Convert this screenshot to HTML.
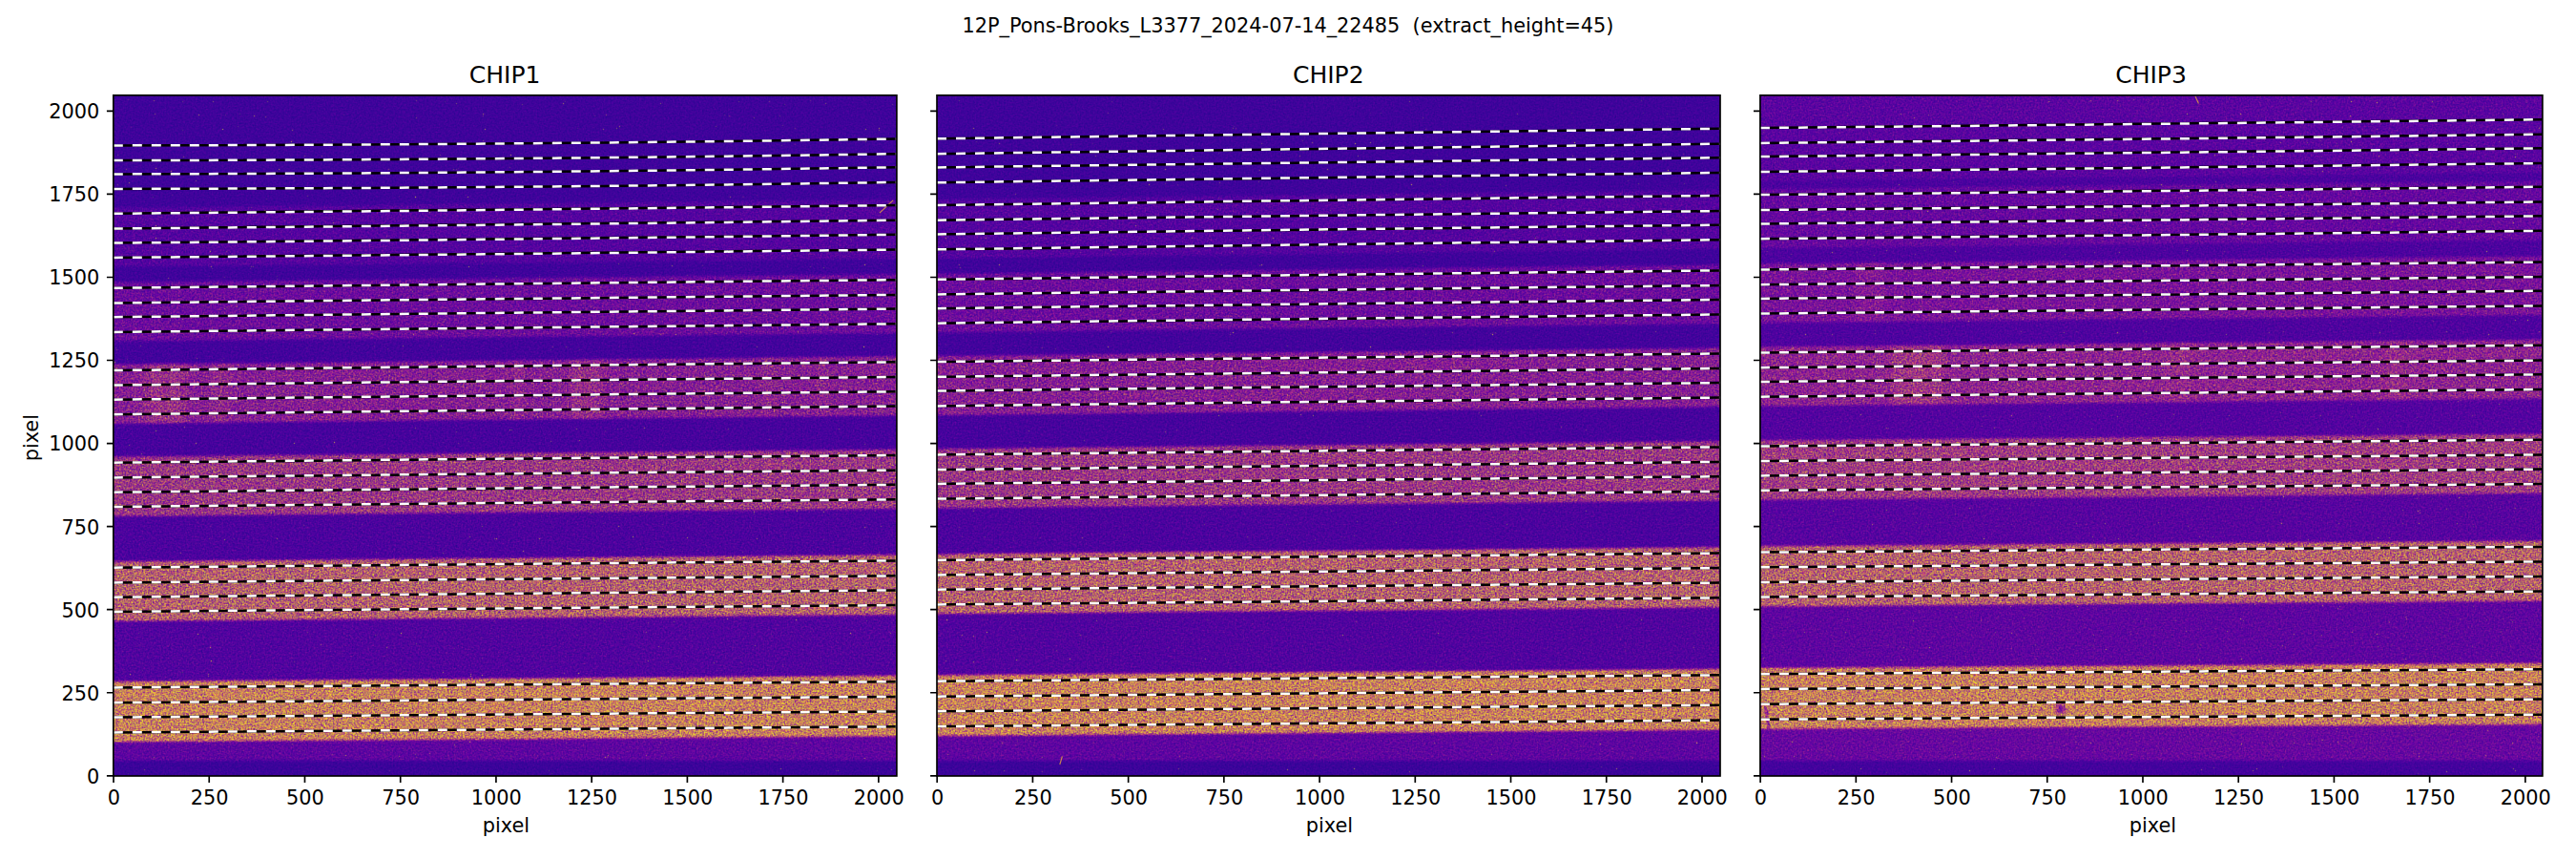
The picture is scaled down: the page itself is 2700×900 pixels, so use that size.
<!DOCTYPE html>
<html lang="en"><head><meta charset="utf-8"><title>12P_Pons-Brooks_L3377_2024-07-14_22485</title>
<style>html,body{margin:0;padding:0;background:#fff;overflow:hidden}svg{display:block}text{font-family:"DejaVu Sans","Liberation Sans",sans-serif;fill:#000}.t{font-size:20.83px}.ti{font-size:25px}.sp{fill:none;stroke:#000;stroke-width:1.67;stroke-linejoin:miter}.tk{stroke:#000;stroke-width:1.67;fill:none}.lb{stroke:#000;stroke-width:2.5;fill:none}.lw{stroke:#fff;stroke-width:2.5;fill:none;stroke-dasharray:10 10}</style></head><body>
<svg width="2700" height="900" viewBox="0 0 2700 900">
<defs>
<clipPath id="c0"><rect x="118.8" y="99.8" width="821.1" height="713.2"/></clipPath>
<filter id="p0" filterUnits="userSpaceOnUse" x="108.8" y="89.8" width="841.1" height="733.2" color-interpolation-filters="sRGB">
<feGaussianBlur in="SourceGraphic" stdDeviation="0 1.2" result="b"/>
<feColorMatrix in="b" type="matrix" values="1 0 0 0 0 1 0 0 0 0 1 0 0 0 0 0 0 0 0 1" result="m"/>
<feColorMatrix in="b" type="matrix" values="0 1 0 0 0 0 1 0 0 0 0 1 0 0 0 0 0 0 0 1" result="a"/>
<feColorMatrix in="m" type="matrix" values="0.3 0 0 0 0 0 0.3 0 0 0 0 0 0.3 0 0 0 0 0 0 1" result="fl"/>
<feTurbulence type="fractalNoise" baseFrequency="0.55" numOctaves="1" seed="3"/>
<feColorMatrix type="matrix" values="1 1 1 0 -1 1 1 1 0 -1 1 1 1 0 -1 0 0 0 0 1" result="n0"/>
<feComposite in="a" in2="n0" operator="arithmetic" k1="1" k2="-0.5" k3="0" k4="0.5" result="an0"/>
<feComposite in="m" in2="an0" operator="arithmetic" k1="0" k2="1" k3="4" k4="-2" result="u0"/>
<feBlend in="u0" in2="fl" mode="lighten" result="v0"/>
<feComponentTransfer in="v0" result="c0"><feFuncR type="table" tableValues="0.050 0.096 0.132 0.164 0.193 0.221 0.248 0.274 0.300 0.325 0.350 0.375 0.399 0.424 0.448 0.471 0.501 0.524 0.546 0.568 0.590 0.611 0.631 0.651 0.670 0.688 0.706 0.723 0.740 0.756 0.772 0.787 0.805 0.820 0.833 0.847 0.860 0.872 0.884 0.896 0.907 0.918 0.928 0.938 0.947 0.955 0.963 0.970 0.978 0.983 0.987 0.991 0.993 0.994 0.994 0.993 0.991 0.988 0.983 0.976 0.968 0.959 0.949 0.940"/><feFuncG type="table" tableValues="0.030 0.025 0.022 0.020 0.018 0.016 0.014 0.012 0.010 0.007 0.004 0.002 0.001 0.001 0.002 0.006 0.014 0.025 0.039 0.056 0.073 0.090 0.108 0.125 0.143 0.161 0.178 0.196 0.214 0.232 0.249 0.267 0.289 0.307 0.325 0.343 0.361 0.379 0.397 0.416 0.435 0.454 0.473 0.493 0.513 0.533 0.554 0.575 0.602 0.624 0.647 0.670 0.693 0.717 0.741 0.765 0.791 0.816 0.842 0.868 0.895 0.921 0.948 0.975"/><feFuncB type="table" tableValues="0.528 0.547 0.563 0.577 0.590 0.602 0.613 0.623 0.632 0.640 0.646 0.652 0.656 0.659 0.660 0.660 0.657 0.653 0.647 0.639 0.630 0.620 0.608 0.596 0.582 0.568 0.554 0.539 0.524 0.509 0.495 0.480 0.462 0.448 0.434 0.421 0.407 0.393 0.380 0.366 0.353 0.340 0.326 0.313 0.299 0.285 0.272 0.258 0.241 0.228 0.215 0.202 0.189 0.177 0.166 0.157 0.149 0.144 0.142 0.143 0.147 0.152 0.152 0.131"/></feComponentTransfer>
<feTurbulence type="fractalNoise" baseFrequency="0.71" numOctaves="1" seed="8"/>
<feColorMatrix type="matrix" values="1 1 1 0 -1 1 1 1 0 -1 1 1 1 0 -1 0 0 0 0 1" result="n1"/>
<feComposite in="a" in2="n1" operator="arithmetic" k1="1" k2="-0.5" k3="0" k4="0.5" result="an1"/>
<feComposite in="m" in2="an1" operator="arithmetic" k1="0" k2="1" k3="4" k4="-2" result="u1"/>
<feBlend in="u1" in2="fl" mode="lighten" result="v1"/>
<feComponentTransfer in="v1" result="c1"><feFuncR type="table" tableValues="0.050 0.096 0.132 0.164 0.193 0.221 0.248 0.274 0.300 0.325 0.350 0.375 0.399 0.424 0.448 0.471 0.501 0.524 0.546 0.568 0.590 0.611 0.631 0.651 0.670 0.688 0.706 0.723 0.740 0.756 0.772 0.787 0.805 0.820 0.833 0.847 0.860 0.872 0.884 0.896 0.907 0.918 0.928 0.938 0.947 0.955 0.963 0.970 0.978 0.983 0.987 0.991 0.993 0.994 0.994 0.993 0.991 0.988 0.983 0.976 0.968 0.959 0.949 0.940"/><feFuncG type="table" tableValues="0.030 0.025 0.022 0.020 0.018 0.016 0.014 0.012 0.010 0.007 0.004 0.002 0.001 0.001 0.002 0.006 0.014 0.025 0.039 0.056 0.073 0.090 0.108 0.125 0.143 0.161 0.178 0.196 0.214 0.232 0.249 0.267 0.289 0.307 0.325 0.343 0.361 0.379 0.397 0.416 0.435 0.454 0.473 0.493 0.513 0.533 0.554 0.575 0.602 0.624 0.647 0.670 0.693 0.717 0.741 0.765 0.791 0.816 0.842 0.868 0.895 0.921 0.948 0.975"/><feFuncB type="table" tableValues="0.528 0.547 0.563 0.577 0.590 0.602 0.613 0.623 0.632 0.640 0.646 0.652 0.656 0.659 0.660 0.660 0.657 0.653 0.647 0.639 0.630 0.620 0.608 0.596 0.582 0.568 0.554 0.539 0.524 0.509 0.495 0.480 0.462 0.448 0.434 0.421 0.407 0.393 0.380 0.366 0.353 0.340 0.326 0.313 0.299 0.285 0.272 0.258 0.241 0.228 0.215 0.202 0.189 0.177 0.166 0.157 0.149 0.144 0.142 0.143 0.147 0.152 0.152 0.131"/></feComponentTransfer>
<feTurbulence type="fractalNoise" baseFrequency="0.89" numOctaves="1" seed="13"/>
<feColorMatrix type="matrix" values="1 1 1 0 -1 1 1 1 0 -1 1 1 1 0 -1 0 0 0 0 1" result="n2"/>
<feComposite in="a" in2="n2" operator="arithmetic" k1="1" k2="-0.5" k3="0" k4="0.5" result="an2"/>
<feComposite in="m" in2="an2" operator="arithmetic" k1="0" k2="1" k3="4" k4="-2" result="u2"/>
<feBlend in="u2" in2="fl" mode="lighten" result="v2"/>
<feComponentTransfer in="v2" result="c2"><feFuncR type="table" tableValues="0.050 0.096 0.132 0.164 0.193 0.221 0.248 0.274 0.300 0.325 0.350 0.375 0.399 0.424 0.448 0.471 0.501 0.524 0.546 0.568 0.590 0.611 0.631 0.651 0.670 0.688 0.706 0.723 0.740 0.756 0.772 0.787 0.805 0.820 0.833 0.847 0.860 0.872 0.884 0.896 0.907 0.918 0.928 0.938 0.947 0.955 0.963 0.970 0.978 0.983 0.987 0.991 0.993 0.994 0.994 0.993 0.991 0.988 0.983 0.976 0.968 0.959 0.949 0.940"/><feFuncG type="table" tableValues="0.030 0.025 0.022 0.020 0.018 0.016 0.014 0.012 0.010 0.007 0.004 0.002 0.001 0.001 0.002 0.006 0.014 0.025 0.039 0.056 0.073 0.090 0.108 0.125 0.143 0.161 0.178 0.196 0.214 0.232 0.249 0.267 0.289 0.307 0.325 0.343 0.361 0.379 0.397 0.416 0.435 0.454 0.473 0.493 0.513 0.533 0.554 0.575 0.602 0.624 0.647 0.670 0.693 0.717 0.741 0.765 0.791 0.816 0.842 0.868 0.895 0.921 0.948 0.975"/><feFuncB type="table" tableValues="0.528 0.547 0.563 0.577 0.590 0.602 0.613 0.623 0.632 0.640 0.646 0.652 0.656 0.659 0.660 0.660 0.657 0.653 0.647 0.639 0.630 0.620 0.608 0.596 0.582 0.568 0.554 0.539 0.524 0.509 0.495 0.480 0.462 0.448 0.434 0.421 0.407 0.393 0.380 0.366 0.353 0.340 0.326 0.313 0.299 0.285 0.272 0.258 0.241 0.228 0.215 0.202 0.189 0.177 0.166 0.157 0.149 0.144 0.142 0.143 0.147 0.152 0.152 0.131"/></feComponentTransfer>
<feTurbulence type="fractalNoise" baseFrequency="0.63" numOctaves="1" seed="18"/>
<feColorMatrix type="matrix" values="1 1 1 0 -1 1 1 1 0 -1 1 1 1 0 -1 0 0 0 0 1" result="n3"/>
<feComposite in="a" in2="n3" operator="arithmetic" k1="1" k2="-0.5" k3="0" k4="0.5" result="an3"/>
<feComposite in="m" in2="an3" operator="arithmetic" k1="0" k2="1" k3="4" k4="-2" result="u3"/>
<feBlend in="u3" in2="fl" mode="lighten" result="v3"/>
<feComponentTransfer in="v3" result="c3"><feFuncR type="table" tableValues="0.050 0.096 0.132 0.164 0.193 0.221 0.248 0.274 0.300 0.325 0.350 0.375 0.399 0.424 0.448 0.471 0.501 0.524 0.546 0.568 0.590 0.611 0.631 0.651 0.670 0.688 0.706 0.723 0.740 0.756 0.772 0.787 0.805 0.820 0.833 0.847 0.860 0.872 0.884 0.896 0.907 0.918 0.928 0.938 0.947 0.955 0.963 0.970 0.978 0.983 0.987 0.991 0.993 0.994 0.994 0.993 0.991 0.988 0.983 0.976 0.968 0.959 0.949 0.940"/><feFuncG type="table" tableValues="0.030 0.025 0.022 0.020 0.018 0.016 0.014 0.012 0.010 0.007 0.004 0.002 0.001 0.001 0.002 0.006 0.014 0.025 0.039 0.056 0.073 0.090 0.108 0.125 0.143 0.161 0.178 0.196 0.214 0.232 0.249 0.267 0.289 0.307 0.325 0.343 0.361 0.379 0.397 0.416 0.435 0.454 0.473 0.493 0.513 0.533 0.554 0.575 0.602 0.624 0.647 0.670 0.693 0.717 0.741 0.765 0.791 0.816 0.842 0.868 0.895 0.921 0.948 0.975"/><feFuncB type="table" tableValues="0.528 0.547 0.563 0.577 0.590 0.602 0.613 0.623 0.632 0.640 0.646 0.652 0.656 0.659 0.660 0.660 0.657 0.653 0.647 0.639 0.630 0.620 0.608 0.596 0.582 0.568 0.554 0.539 0.524 0.509 0.495 0.480 0.462 0.448 0.434 0.421 0.407 0.393 0.380 0.366 0.353 0.340 0.326 0.313 0.299 0.285 0.272 0.258 0.241 0.228 0.215 0.202 0.189 0.177 0.166 0.157 0.149 0.144 0.142 0.143 0.147 0.152 0.152 0.131"/></feComponentTransfer>
<feComposite in="c0" in2="c1" operator="arithmetic" k1="0" k2="0.5" k3="0.5" k4="0" result="s1"/>
<feComposite in="s1" in2="c2" operator="arithmetic" k1="0" k2="0.67" k3="0.33" k4="0" result="s2"/>
<feComposite in="s2" in2="c3" operator="arithmetic" k1="0" k2="0.75" k3="0.25" k4="0" result="s"/>
<feTurbulence type="fractalNoise" baseFrequency="0.93" numOctaves="1" seed="41"/>
<feColorMatrix type="matrix" values="0 0 0 0 0.92 0 0 0 0 0.80 0 0 0 0 0.25 0 0 0 14 -10.81" result="hot"/>
<feMerge result="sh"><feMergeNode in="s"/><feMergeNode in="hot"/></feMerge>
<feConvolveMatrix in="sh" order="3" kernelMatrix="0 1 0 1 6 1 0 1 0" divisor="10" edgeMode="duplicate" preserveAlpha="true"/>
</filter>
<clipPath id="c1"><rect x="982" y="99.8" width="821" height="713.2"/></clipPath>
<filter id="p1" filterUnits="userSpaceOnUse" x="972" y="89.8" width="841" height="733.2" color-interpolation-filters="sRGB">
<feGaussianBlur in="SourceGraphic" stdDeviation="0 1.2" result="b"/>
<feColorMatrix in="b" type="matrix" values="1 0 0 0 0 1 0 0 0 0 1 0 0 0 0 0 0 0 0 1" result="m"/>
<feColorMatrix in="b" type="matrix" values="0 1 0 0 0 0 1 0 0 0 0 1 0 0 0 0 0 0 0 1" result="a"/>
<feColorMatrix in="m" type="matrix" values="0.3 0 0 0 0 0 0.3 0 0 0 0 0 0.3 0 0 0 0 0 0 1" result="fl"/>
<feTurbulence type="fractalNoise" baseFrequency="0.55" numOctaves="1" seed="20"/>
<feColorMatrix type="matrix" values="1 1 1 0 -1 1 1 1 0 -1 1 1 1 0 -1 0 0 0 0 1" result="n0"/>
<feComposite in="a" in2="n0" operator="arithmetic" k1="1" k2="-0.5" k3="0" k4="0.5" result="an0"/>
<feComposite in="m" in2="an0" operator="arithmetic" k1="0" k2="1" k3="4" k4="-2" result="u0"/>
<feBlend in="u0" in2="fl" mode="lighten" result="v0"/>
<feComponentTransfer in="v0" result="c0"><feFuncR type="table" tableValues="0.050 0.096 0.132 0.164 0.193 0.221 0.248 0.274 0.300 0.325 0.350 0.375 0.399 0.424 0.448 0.471 0.501 0.524 0.546 0.568 0.590 0.611 0.631 0.651 0.670 0.688 0.706 0.723 0.740 0.756 0.772 0.787 0.805 0.820 0.833 0.847 0.860 0.872 0.884 0.896 0.907 0.918 0.928 0.938 0.947 0.955 0.963 0.970 0.978 0.983 0.987 0.991 0.993 0.994 0.994 0.993 0.991 0.988 0.983 0.976 0.968 0.959 0.949 0.940"/><feFuncG type="table" tableValues="0.030 0.025 0.022 0.020 0.018 0.016 0.014 0.012 0.010 0.007 0.004 0.002 0.001 0.001 0.002 0.006 0.014 0.025 0.039 0.056 0.073 0.090 0.108 0.125 0.143 0.161 0.178 0.196 0.214 0.232 0.249 0.267 0.289 0.307 0.325 0.343 0.361 0.379 0.397 0.416 0.435 0.454 0.473 0.493 0.513 0.533 0.554 0.575 0.602 0.624 0.647 0.670 0.693 0.717 0.741 0.765 0.791 0.816 0.842 0.868 0.895 0.921 0.948 0.975"/><feFuncB type="table" tableValues="0.528 0.547 0.563 0.577 0.590 0.602 0.613 0.623 0.632 0.640 0.646 0.652 0.656 0.659 0.660 0.660 0.657 0.653 0.647 0.639 0.630 0.620 0.608 0.596 0.582 0.568 0.554 0.539 0.524 0.509 0.495 0.480 0.462 0.448 0.434 0.421 0.407 0.393 0.380 0.366 0.353 0.340 0.326 0.313 0.299 0.285 0.272 0.258 0.241 0.228 0.215 0.202 0.189 0.177 0.166 0.157 0.149 0.144 0.142 0.143 0.147 0.152 0.152 0.131"/></feComponentTransfer>
<feTurbulence type="fractalNoise" baseFrequency="0.71" numOctaves="1" seed="25"/>
<feColorMatrix type="matrix" values="1 1 1 0 -1 1 1 1 0 -1 1 1 1 0 -1 0 0 0 0 1" result="n1"/>
<feComposite in="a" in2="n1" operator="arithmetic" k1="1" k2="-0.5" k3="0" k4="0.5" result="an1"/>
<feComposite in="m" in2="an1" operator="arithmetic" k1="0" k2="1" k3="4" k4="-2" result="u1"/>
<feBlend in="u1" in2="fl" mode="lighten" result="v1"/>
<feComponentTransfer in="v1" result="c1"><feFuncR type="table" tableValues="0.050 0.096 0.132 0.164 0.193 0.221 0.248 0.274 0.300 0.325 0.350 0.375 0.399 0.424 0.448 0.471 0.501 0.524 0.546 0.568 0.590 0.611 0.631 0.651 0.670 0.688 0.706 0.723 0.740 0.756 0.772 0.787 0.805 0.820 0.833 0.847 0.860 0.872 0.884 0.896 0.907 0.918 0.928 0.938 0.947 0.955 0.963 0.970 0.978 0.983 0.987 0.991 0.993 0.994 0.994 0.993 0.991 0.988 0.983 0.976 0.968 0.959 0.949 0.940"/><feFuncG type="table" tableValues="0.030 0.025 0.022 0.020 0.018 0.016 0.014 0.012 0.010 0.007 0.004 0.002 0.001 0.001 0.002 0.006 0.014 0.025 0.039 0.056 0.073 0.090 0.108 0.125 0.143 0.161 0.178 0.196 0.214 0.232 0.249 0.267 0.289 0.307 0.325 0.343 0.361 0.379 0.397 0.416 0.435 0.454 0.473 0.493 0.513 0.533 0.554 0.575 0.602 0.624 0.647 0.670 0.693 0.717 0.741 0.765 0.791 0.816 0.842 0.868 0.895 0.921 0.948 0.975"/><feFuncB type="table" tableValues="0.528 0.547 0.563 0.577 0.590 0.602 0.613 0.623 0.632 0.640 0.646 0.652 0.656 0.659 0.660 0.660 0.657 0.653 0.647 0.639 0.630 0.620 0.608 0.596 0.582 0.568 0.554 0.539 0.524 0.509 0.495 0.480 0.462 0.448 0.434 0.421 0.407 0.393 0.380 0.366 0.353 0.340 0.326 0.313 0.299 0.285 0.272 0.258 0.241 0.228 0.215 0.202 0.189 0.177 0.166 0.157 0.149 0.144 0.142 0.143 0.147 0.152 0.152 0.131"/></feComponentTransfer>
<feTurbulence type="fractalNoise" baseFrequency="0.89" numOctaves="1" seed="30"/>
<feColorMatrix type="matrix" values="1 1 1 0 -1 1 1 1 0 -1 1 1 1 0 -1 0 0 0 0 1" result="n2"/>
<feComposite in="a" in2="n2" operator="arithmetic" k1="1" k2="-0.5" k3="0" k4="0.5" result="an2"/>
<feComposite in="m" in2="an2" operator="arithmetic" k1="0" k2="1" k3="4" k4="-2" result="u2"/>
<feBlend in="u2" in2="fl" mode="lighten" result="v2"/>
<feComponentTransfer in="v2" result="c2"><feFuncR type="table" tableValues="0.050 0.096 0.132 0.164 0.193 0.221 0.248 0.274 0.300 0.325 0.350 0.375 0.399 0.424 0.448 0.471 0.501 0.524 0.546 0.568 0.590 0.611 0.631 0.651 0.670 0.688 0.706 0.723 0.740 0.756 0.772 0.787 0.805 0.820 0.833 0.847 0.860 0.872 0.884 0.896 0.907 0.918 0.928 0.938 0.947 0.955 0.963 0.970 0.978 0.983 0.987 0.991 0.993 0.994 0.994 0.993 0.991 0.988 0.983 0.976 0.968 0.959 0.949 0.940"/><feFuncG type="table" tableValues="0.030 0.025 0.022 0.020 0.018 0.016 0.014 0.012 0.010 0.007 0.004 0.002 0.001 0.001 0.002 0.006 0.014 0.025 0.039 0.056 0.073 0.090 0.108 0.125 0.143 0.161 0.178 0.196 0.214 0.232 0.249 0.267 0.289 0.307 0.325 0.343 0.361 0.379 0.397 0.416 0.435 0.454 0.473 0.493 0.513 0.533 0.554 0.575 0.602 0.624 0.647 0.670 0.693 0.717 0.741 0.765 0.791 0.816 0.842 0.868 0.895 0.921 0.948 0.975"/><feFuncB type="table" tableValues="0.528 0.547 0.563 0.577 0.590 0.602 0.613 0.623 0.632 0.640 0.646 0.652 0.656 0.659 0.660 0.660 0.657 0.653 0.647 0.639 0.630 0.620 0.608 0.596 0.582 0.568 0.554 0.539 0.524 0.509 0.495 0.480 0.462 0.448 0.434 0.421 0.407 0.393 0.380 0.366 0.353 0.340 0.326 0.313 0.299 0.285 0.272 0.258 0.241 0.228 0.215 0.202 0.189 0.177 0.166 0.157 0.149 0.144 0.142 0.143 0.147 0.152 0.152 0.131"/></feComponentTransfer>
<feTurbulence type="fractalNoise" baseFrequency="0.63" numOctaves="1" seed="35"/>
<feColorMatrix type="matrix" values="1 1 1 0 -1 1 1 1 0 -1 1 1 1 0 -1 0 0 0 0 1" result="n3"/>
<feComposite in="a" in2="n3" operator="arithmetic" k1="1" k2="-0.5" k3="0" k4="0.5" result="an3"/>
<feComposite in="m" in2="an3" operator="arithmetic" k1="0" k2="1" k3="4" k4="-2" result="u3"/>
<feBlend in="u3" in2="fl" mode="lighten" result="v3"/>
<feComponentTransfer in="v3" result="c3"><feFuncR type="table" tableValues="0.050 0.096 0.132 0.164 0.193 0.221 0.248 0.274 0.300 0.325 0.350 0.375 0.399 0.424 0.448 0.471 0.501 0.524 0.546 0.568 0.590 0.611 0.631 0.651 0.670 0.688 0.706 0.723 0.740 0.756 0.772 0.787 0.805 0.820 0.833 0.847 0.860 0.872 0.884 0.896 0.907 0.918 0.928 0.938 0.947 0.955 0.963 0.970 0.978 0.983 0.987 0.991 0.993 0.994 0.994 0.993 0.991 0.988 0.983 0.976 0.968 0.959 0.949 0.940"/><feFuncG type="table" tableValues="0.030 0.025 0.022 0.020 0.018 0.016 0.014 0.012 0.010 0.007 0.004 0.002 0.001 0.001 0.002 0.006 0.014 0.025 0.039 0.056 0.073 0.090 0.108 0.125 0.143 0.161 0.178 0.196 0.214 0.232 0.249 0.267 0.289 0.307 0.325 0.343 0.361 0.379 0.397 0.416 0.435 0.454 0.473 0.493 0.513 0.533 0.554 0.575 0.602 0.624 0.647 0.670 0.693 0.717 0.741 0.765 0.791 0.816 0.842 0.868 0.895 0.921 0.948 0.975"/><feFuncB type="table" tableValues="0.528 0.547 0.563 0.577 0.590 0.602 0.613 0.623 0.632 0.640 0.646 0.652 0.656 0.659 0.660 0.660 0.657 0.653 0.647 0.639 0.630 0.620 0.608 0.596 0.582 0.568 0.554 0.539 0.524 0.509 0.495 0.480 0.462 0.448 0.434 0.421 0.407 0.393 0.380 0.366 0.353 0.340 0.326 0.313 0.299 0.285 0.272 0.258 0.241 0.228 0.215 0.202 0.189 0.177 0.166 0.157 0.149 0.144 0.142 0.143 0.147 0.152 0.152 0.131"/></feComponentTransfer>
<feComposite in="c0" in2="c1" operator="arithmetic" k1="0" k2="0.5" k3="0.5" k4="0" result="s1"/>
<feComposite in="s1" in2="c2" operator="arithmetic" k1="0" k2="0.67" k3="0.33" k4="0" result="s2"/>
<feComposite in="s2" in2="c3" operator="arithmetic" k1="0" k2="0.75" k3="0.25" k4="0" result="s"/>
<feTurbulence type="fractalNoise" baseFrequency="0.93" numOctaves="1" seed="42"/>
<feColorMatrix type="matrix" values="0 0 0 0 0.92 0 0 0 0 0.80 0 0 0 0 0.25 0 0 0 14 -10.81" result="hot"/>
<feMerge result="sh"><feMergeNode in="s"/><feMergeNode in="hot"/></feMerge>
<feConvolveMatrix in="sh" order="3" kernelMatrix="0 1 0 1 6 1 0 1 0" divisor="10" edgeMode="duplicate" preserveAlpha="true"/>
</filter>
<clipPath id="c2"><rect x="1844.9" y="99.8" width="820" height="713.2"/></clipPath>
<filter id="p2" filterUnits="userSpaceOnUse" x="1834.9" y="89.8" width="841" height="733.2" color-interpolation-filters="sRGB">
<feGaussianBlur in="SourceGraphic" stdDeviation="0 1.2" result="b"/>
<feColorMatrix in="b" type="matrix" values="1 0 0 0 0 1 0 0 0 0 1 0 0 0 0 0 0 0 0 1" result="m"/>
<feColorMatrix in="b" type="matrix" values="0 1 0 0 0 0 1 0 0 0 0 1 0 0 0 0 0 0 0 1" result="a"/>
<feColorMatrix in="m" type="matrix" values="0.3 0 0 0 0 0 0.3 0 0 0 0 0 0.3 0 0 0 0 0 0 1" result="fl"/>
<feTurbulence type="fractalNoise" baseFrequency="0.55" numOctaves="1" seed="37"/>
<feColorMatrix type="matrix" values="1 1 1 0 -1 1 1 1 0 -1 1 1 1 0 -1 0 0 0 0 1" result="n0"/>
<feComposite in="a" in2="n0" operator="arithmetic" k1="1" k2="-0.5" k3="0" k4="0.5" result="an0"/>
<feComposite in="m" in2="an0" operator="arithmetic" k1="0" k2="1" k3="4" k4="-2" result="u0"/>
<feBlend in="u0" in2="fl" mode="lighten" result="v0"/>
<feComponentTransfer in="v0" result="c0"><feFuncR type="table" tableValues="0.050 0.096 0.132 0.164 0.193 0.221 0.248 0.274 0.300 0.325 0.350 0.375 0.399 0.424 0.448 0.471 0.501 0.524 0.546 0.568 0.590 0.611 0.631 0.651 0.670 0.688 0.706 0.723 0.740 0.756 0.772 0.787 0.805 0.820 0.833 0.847 0.860 0.872 0.884 0.896 0.907 0.918 0.928 0.938 0.947 0.955 0.963 0.970 0.978 0.983 0.987 0.991 0.993 0.994 0.994 0.993 0.991 0.988 0.983 0.976 0.968 0.959 0.949 0.940"/><feFuncG type="table" tableValues="0.030 0.025 0.022 0.020 0.018 0.016 0.014 0.012 0.010 0.007 0.004 0.002 0.001 0.001 0.002 0.006 0.014 0.025 0.039 0.056 0.073 0.090 0.108 0.125 0.143 0.161 0.178 0.196 0.214 0.232 0.249 0.267 0.289 0.307 0.325 0.343 0.361 0.379 0.397 0.416 0.435 0.454 0.473 0.493 0.513 0.533 0.554 0.575 0.602 0.624 0.647 0.670 0.693 0.717 0.741 0.765 0.791 0.816 0.842 0.868 0.895 0.921 0.948 0.975"/><feFuncB type="table" tableValues="0.528 0.547 0.563 0.577 0.590 0.602 0.613 0.623 0.632 0.640 0.646 0.652 0.656 0.659 0.660 0.660 0.657 0.653 0.647 0.639 0.630 0.620 0.608 0.596 0.582 0.568 0.554 0.539 0.524 0.509 0.495 0.480 0.462 0.448 0.434 0.421 0.407 0.393 0.380 0.366 0.353 0.340 0.326 0.313 0.299 0.285 0.272 0.258 0.241 0.228 0.215 0.202 0.189 0.177 0.166 0.157 0.149 0.144 0.142 0.143 0.147 0.152 0.152 0.131"/></feComponentTransfer>
<feTurbulence type="fractalNoise" baseFrequency="0.71" numOctaves="1" seed="42"/>
<feColorMatrix type="matrix" values="1 1 1 0 -1 1 1 1 0 -1 1 1 1 0 -1 0 0 0 0 1" result="n1"/>
<feComposite in="a" in2="n1" operator="arithmetic" k1="1" k2="-0.5" k3="0" k4="0.5" result="an1"/>
<feComposite in="m" in2="an1" operator="arithmetic" k1="0" k2="1" k3="4" k4="-2" result="u1"/>
<feBlend in="u1" in2="fl" mode="lighten" result="v1"/>
<feComponentTransfer in="v1" result="c1"><feFuncR type="table" tableValues="0.050 0.096 0.132 0.164 0.193 0.221 0.248 0.274 0.300 0.325 0.350 0.375 0.399 0.424 0.448 0.471 0.501 0.524 0.546 0.568 0.590 0.611 0.631 0.651 0.670 0.688 0.706 0.723 0.740 0.756 0.772 0.787 0.805 0.820 0.833 0.847 0.860 0.872 0.884 0.896 0.907 0.918 0.928 0.938 0.947 0.955 0.963 0.970 0.978 0.983 0.987 0.991 0.993 0.994 0.994 0.993 0.991 0.988 0.983 0.976 0.968 0.959 0.949 0.940"/><feFuncG type="table" tableValues="0.030 0.025 0.022 0.020 0.018 0.016 0.014 0.012 0.010 0.007 0.004 0.002 0.001 0.001 0.002 0.006 0.014 0.025 0.039 0.056 0.073 0.090 0.108 0.125 0.143 0.161 0.178 0.196 0.214 0.232 0.249 0.267 0.289 0.307 0.325 0.343 0.361 0.379 0.397 0.416 0.435 0.454 0.473 0.493 0.513 0.533 0.554 0.575 0.602 0.624 0.647 0.670 0.693 0.717 0.741 0.765 0.791 0.816 0.842 0.868 0.895 0.921 0.948 0.975"/><feFuncB type="table" tableValues="0.528 0.547 0.563 0.577 0.590 0.602 0.613 0.623 0.632 0.640 0.646 0.652 0.656 0.659 0.660 0.660 0.657 0.653 0.647 0.639 0.630 0.620 0.608 0.596 0.582 0.568 0.554 0.539 0.524 0.509 0.495 0.480 0.462 0.448 0.434 0.421 0.407 0.393 0.380 0.366 0.353 0.340 0.326 0.313 0.299 0.285 0.272 0.258 0.241 0.228 0.215 0.202 0.189 0.177 0.166 0.157 0.149 0.144 0.142 0.143 0.147 0.152 0.152 0.131"/></feComponentTransfer>
<feTurbulence type="fractalNoise" baseFrequency="0.89" numOctaves="1" seed="47"/>
<feColorMatrix type="matrix" values="1 1 1 0 -1 1 1 1 0 -1 1 1 1 0 -1 0 0 0 0 1" result="n2"/>
<feComposite in="a" in2="n2" operator="arithmetic" k1="1" k2="-0.5" k3="0" k4="0.5" result="an2"/>
<feComposite in="m" in2="an2" operator="arithmetic" k1="0" k2="1" k3="4" k4="-2" result="u2"/>
<feBlend in="u2" in2="fl" mode="lighten" result="v2"/>
<feComponentTransfer in="v2" result="c2"><feFuncR type="table" tableValues="0.050 0.096 0.132 0.164 0.193 0.221 0.248 0.274 0.300 0.325 0.350 0.375 0.399 0.424 0.448 0.471 0.501 0.524 0.546 0.568 0.590 0.611 0.631 0.651 0.670 0.688 0.706 0.723 0.740 0.756 0.772 0.787 0.805 0.820 0.833 0.847 0.860 0.872 0.884 0.896 0.907 0.918 0.928 0.938 0.947 0.955 0.963 0.970 0.978 0.983 0.987 0.991 0.993 0.994 0.994 0.993 0.991 0.988 0.983 0.976 0.968 0.959 0.949 0.940"/><feFuncG type="table" tableValues="0.030 0.025 0.022 0.020 0.018 0.016 0.014 0.012 0.010 0.007 0.004 0.002 0.001 0.001 0.002 0.006 0.014 0.025 0.039 0.056 0.073 0.090 0.108 0.125 0.143 0.161 0.178 0.196 0.214 0.232 0.249 0.267 0.289 0.307 0.325 0.343 0.361 0.379 0.397 0.416 0.435 0.454 0.473 0.493 0.513 0.533 0.554 0.575 0.602 0.624 0.647 0.670 0.693 0.717 0.741 0.765 0.791 0.816 0.842 0.868 0.895 0.921 0.948 0.975"/><feFuncB type="table" tableValues="0.528 0.547 0.563 0.577 0.590 0.602 0.613 0.623 0.632 0.640 0.646 0.652 0.656 0.659 0.660 0.660 0.657 0.653 0.647 0.639 0.630 0.620 0.608 0.596 0.582 0.568 0.554 0.539 0.524 0.509 0.495 0.480 0.462 0.448 0.434 0.421 0.407 0.393 0.380 0.366 0.353 0.340 0.326 0.313 0.299 0.285 0.272 0.258 0.241 0.228 0.215 0.202 0.189 0.177 0.166 0.157 0.149 0.144 0.142 0.143 0.147 0.152 0.152 0.131"/></feComponentTransfer>
<feTurbulence type="fractalNoise" baseFrequency="0.63" numOctaves="1" seed="52"/>
<feColorMatrix type="matrix" values="1 1 1 0 -1 1 1 1 0 -1 1 1 1 0 -1 0 0 0 0 1" result="n3"/>
<feComposite in="a" in2="n3" operator="arithmetic" k1="1" k2="-0.5" k3="0" k4="0.5" result="an3"/>
<feComposite in="m" in2="an3" operator="arithmetic" k1="0" k2="1" k3="4" k4="-2" result="u3"/>
<feBlend in="u3" in2="fl" mode="lighten" result="v3"/>
<feComponentTransfer in="v3" result="c3"><feFuncR type="table" tableValues="0.050 0.096 0.132 0.164 0.193 0.221 0.248 0.274 0.300 0.325 0.350 0.375 0.399 0.424 0.448 0.471 0.501 0.524 0.546 0.568 0.590 0.611 0.631 0.651 0.670 0.688 0.706 0.723 0.740 0.756 0.772 0.787 0.805 0.820 0.833 0.847 0.860 0.872 0.884 0.896 0.907 0.918 0.928 0.938 0.947 0.955 0.963 0.970 0.978 0.983 0.987 0.991 0.993 0.994 0.994 0.993 0.991 0.988 0.983 0.976 0.968 0.959 0.949 0.940"/><feFuncG type="table" tableValues="0.030 0.025 0.022 0.020 0.018 0.016 0.014 0.012 0.010 0.007 0.004 0.002 0.001 0.001 0.002 0.006 0.014 0.025 0.039 0.056 0.073 0.090 0.108 0.125 0.143 0.161 0.178 0.196 0.214 0.232 0.249 0.267 0.289 0.307 0.325 0.343 0.361 0.379 0.397 0.416 0.435 0.454 0.473 0.493 0.513 0.533 0.554 0.575 0.602 0.624 0.647 0.670 0.693 0.717 0.741 0.765 0.791 0.816 0.842 0.868 0.895 0.921 0.948 0.975"/><feFuncB type="table" tableValues="0.528 0.547 0.563 0.577 0.590 0.602 0.613 0.623 0.632 0.640 0.646 0.652 0.656 0.659 0.660 0.660 0.657 0.653 0.647 0.639 0.630 0.620 0.608 0.596 0.582 0.568 0.554 0.539 0.524 0.509 0.495 0.480 0.462 0.448 0.434 0.421 0.407 0.393 0.380 0.366 0.353 0.340 0.326 0.313 0.299 0.285 0.272 0.258 0.241 0.228 0.215 0.202 0.189 0.177 0.166 0.157 0.149 0.144 0.142 0.143 0.147 0.152 0.152 0.131"/></feComponentTransfer>
<feComposite in="c0" in2="c1" operator="arithmetic" k1="0" k2="0.5" k3="0.5" k4="0" result="s1"/>
<feComposite in="s1" in2="c2" operator="arithmetic" k1="0" k2="0.67" k3="0.33" k4="0" result="s2"/>
<feComposite in="s2" in2="c3" operator="arithmetic" k1="0" k2="0.75" k3="0.25" k4="0" result="s"/>
<feTurbulence type="fractalNoise" baseFrequency="0.93" numOctaves="1" seed="43"/>
<feColorMatrix type="matrix" values="0 0 0 0 0.92 0 0 0 0 0.80 0 0 0 0 0.25 0 0 0 14 -10.81" result="hot"/>
<feMerge result="sh"><feMergeNode in="s"/><feMergeNode in="hot"/></feMerge>
<feConvolveMatrix in="sh" order="3" kernelMatrix="0 1 0 1 6 1 0 1 0" divisor="10" edgeMode="duplicate" preserveAlpha="true"/>
</filter>
<filter id="hb" x="-20%" y="-5%" width="140%" height="110%" color-interpolation-filters="sRGB"><feGaussianBlur stdDeviation="5 0"/></filter>
</defs>
<rect width="2700" height="900" fill="#fff"/>
<g clip-path="url(#c0)">
<rect x="118.8" y="99.8" width="821.1" height="713.2" fill="#42039c"/>
<rect x="118.8" y="797" width="821.1" height="16" fill="#3a049a"/>
<polygon points="118.8,217.8 939.9,209 939.9,271.2 118.8,279.6" fill="#53049f"/>
<polygon points="118.8,295.8 939.9,287.2 939.9,349 118.8,357.6" fill="#6b0d9c"/>
<polygon points="118.8,382.1 939.9,373.3 939.9,435.3 118.8,443.9" fill="#841f91"/>
<polygon points="118.8,478.7 939.9,471 939.9,533 118.8,540.7" fill="#993882"/>
<polygon points="118.8,588.7 939.9,581.4 939.9,643.8 118.8,650.6" fill="#b2606d"/>
<polygon points="118.8,714.4 939.9,708.2 939.9,771 118.8,777.1" fill="#c57f5e"/>
<g filter="url(#p0)">
<rect x="106.8" y="87.8" width="845.1" height="737.2" fill="#181100"/>
<polygon points="106.8,239.63 951.9,230.57 951.9,308.77 106.8,317.63" fill="#181300"/>
<polygon points="106.8,317.63 951.9,308.77 951.9,394.87 106.8,403.73" fill="#1a1700"/>
<polygon points="106.8,403.73 951.9,394.87 951.9,492.59 106.8,500.51" fill="#1c1a00"/>
<polygon points="106.8,500.51 951.9,492.59 951.9,603.2 106.8,610.5" fill="#1f1e00"/>
<polygon points="106.8,610.5 951.9,603.2 951.9,729.81 106.8,736.29" fill="#222100"/>
<polygon points="106.8,777.19 951.9,770.91 951.9,797 106.8,797" fill="#2a2600"/>
<rect x="106.8" y="797" width="845.1" height="28" fill="#161000"/>
<polygon points="106.8,87.8 951.9,87.8 951.9,139.4 106.8,146.5" fill="#181100"/>
<polygon points="106.8,146.5 951.9,139.4 951.9,200.5 106.8,207.7" fill="#181100"/>
<polygon points="106.8,217.93 951.9,208.87 951.9,271.08 106.8,279.72" fill="#242300"/>
<polygon points="106.8,295.93 951.9,287.07 951.9,348.87 106.8,357.73" fill="#323800"/>
<polygon points="106.8,382.23 951.9,373.17 951.9,435.17 106.8,444.03" fill="#445400"/>
<polygon points="106.8,478.81 951.9,470.89 951.9,532.89 106.8,540.81" fill="#577a00"/>
<polygon points="106.8,588.81 951.9,581.29 951.9,643.7 106.8,650.7" fill="#80b500"/>
<polygon points="106.8,714.49 951.9,708.11 951.9,770.91 106.8,777.19" fill="#add800"/>
<g filter="url(#hb)">
<polygon points="152,381.74 195,381.28 193,443.1 150,443.55" fill="#556a00"/>
<polygon points="224,380.97 240,380.8 238,442.63 222,442.8" fill="#506300"/>
<polygon points="538,377.61 548,377.5 546,439.4 536,439.51" fill="#4e6100"/>
<polygon points="598,376.96 632,376.6 630,438.52 596,438.88" fill="#526500"/>
<polygon points="800,374.8 815,374.64 813,436.61 798,436.77" fill="#4c5f00"/>
<polygon points="856,374.2 867,374.08 865,436.06 854,436.18" fill="#4c5f00"/>
</g>
</g>
<path d="M921.9,223.2L936.1,209.8" stroke="#e0a040" stroke-width="1.1" fill="none" opacity="0.85"/>
<path class="lb" d="M118.8,152.4Q529.35,151.85 939.9,145.5M118.8,168.1Q529.35,167.55 939.9,161.2M118.8,182.4Q529.35,181.7 939.9,175.2M118.8,197.9Q529.35,197.3 939.9,190.9M118.8,223.8Q529.35,220.3 939.9,215M118.8,239.5Q529.35,236 939.9,230.7M118.8,254.6Q529.35,251.1 939.9,245.8M118.8,269.9Q529.35,266.6 939.9,261.5M118.8,301.8Q529.35,297.3 939.9,293.2M118.8,317.5Q529.35,313 939.9,308.9M118.8,332.2Q529.35,327.7 939.9,323.6M118.8,347.9Q529.35,343.4 939.9,339.3M118.8,388.1Q529.35,383.3 939.9,379.3M118.8,403.6Q529.35,398.9 939.9,395M118.8,418.7Q529.35,414.1 939.9,410.3M118.8,434.2Q529.35,429.5 939.9,425.6M118.8,484.7Q529.35,480.35 939.9,477M118.8,500.4Q529.35,496.05 939.9,492.7M118.8,515.7Q529.35,511.25 939.9,507.8M118.8,531Q529.35,526.65 939.9,523.3M118.8,594.7Q529.35,590.85 939.9,587.4M118.8,610.4Q529.35,606.65 939.9,603.3M118.8,625.7Q529.35,621.85 939.9,618.4M118.8,640.9Q529.35,637.3 939.9,634.1M118.8,720.4Q529.35,717.3 939.9,714.2M118.8,736.2Q529.35,733.05 939.9,729.9M118.8,751.6Q529.35,748.5 939.9,745.4M118.8,767.4Q529.35,764.35 939.9,761.3"/>
<path class="lw" d="M118.8,152.4Q529.35,151.85 939.9,145.5M118.8,168.1Q529.35,167.55 939.9,161.2M118.8,182.4Q529.35,181.7 939.9,175.2M118.8,197.9Q529.35,197.3 939.9,190.9M118.8,223.8Q529.35,220.3 939.9,215M118.8,239.5Q529.35,236 939.9,230.7M118.8,254.6Q529.35,251.1 939.9,245.8M118.8,269.9Q529.35,266.6 939.9,261.5M118.8,301.8Q529.35,297.3 939.9,293.2M118.8,317.5Q529.35,313 939.9,308.9M118.8,332.2Q529.35,327.7 939.9,323.6M118.8,347.9Q529.35,343.4 939.9,339.3M118.8,388.1Q529.35,383.3 939.9,379.3M118.8,403.6Q529.35,398.9 939.9,395M118.8,418.7Q529.35,414.1 939.9,410.3M118.8,434.2Q529.35,429.5 939.9,425.6M118.8,484.7Q529.35,480.35 939.9,477M118.8,500.4Q529.35,496.05 939.9,492.7M118.8,515.7Q529.35,511.25 939.9,507.8M118.8,531Q529.35,526.65 939.9,523.3M118.8,594.7Q529.35,590.85 939.9,587.4M118.8,610.4Q529.35,606.65 939.9,603.3M118.8,625.7Q529.35,621.85 939.9,618.4M118.8,640.9Q529.35,637.3 939.9,634.1M118.8,720.4Q529.35,717.3 939.9,714.2M118.8,736.2Q529.35,733.05 939.9,729.9M118.8,751.6Q529.35,748.5 939.9,745.4M118.8,767.4Q529.35,764.35 939.9,761.3"/>
</g>
<rect class="sp" x="118.8" y="99.8" width="821.1" height="713.2"/>
<text class="t" x="119.4" y="842.5" text-anchor="middle">0</text>
<text class="t" x="104.2" y="820.73" text-anchor="end">0</text>
<text class="t" x="219.63" y="842.5" text-anchor="middle">250</text>
<text class="t" x="104.2" y="733.67" text-anchor="end">250</text>
<text class="t" x="319.86" y="842.5" text-anchor="middle">500</text>
<text class="t" x="104.2" y="646.6" text-anchor="end">500</text>
<text class="t" x="420.1" y="842.5" text-anchor="middle">750</text>
<text class="t" x="104.2" y="559.54" text-anchor="end">750</text>
<text class="t" x="520.33" y="842.5" text-anchor="middle">1000</text>
<text class="t" x="104.2" y="472.48" text-anchor="end">1000</text>
<text class="t" x="620.56" y="842.5" text-anchor="middle">1250</text>
<text class="t" x="104.2" y="385.42" text-anchor="end">1250</text>
<text class="t" x="720.79" y="842.5" text-anchor="middle">1500</text>
<text class="t" x="104.2" y="298.36" text-anchor="end">1500</text>
<text class="t" x="821.02" y="842.5" text-anchor="middle">1750</text>
<text class="t" x="104.2" y="211.3" text-anchor="end">1750</text>
<text class="t" x="921.26" y="842.5" text-anchor="middle">2000</text>
<text class="t" x="104.2" y="124.24" text-anchor="end">2000</text>
<path class="tk" d="M119,813v6.9M118.8,812.83h-6.9M219.23,813v6.9M118.8,725.77h-6.9M319.46,813v6.9M118.8,638.7h-6.9M419.7,813v6.9M118.8,551.64h-6.9M519.93,813v6.9M118.8,464.58h-6.9M620.16,813v6.9M118.8,377.52h-6.9M720.39,813v6.9M118.8,290.46h-6.9M820.62,813v6.9M118.8,203.4h-6.9M920.86,813v6.9M118.8,116.34h-6.9"/>
<text class="ti" x="529.15" y="87" text-anchor="middle">CHIP1</text>
<text class="t" x="530.35" y="872" text-anchor="middle">pixel</text>
<g clip-path="url(#c1)">
<rect x="982" y="99.8" width="821" height="713.2" fill="#42039c"/>
<rect x="982" y="797" width="821" height="16" fill="#3a049a"/>
<polygon points="982,209 1803,198.9 1803,260.9 982,271" fill="#53049f"/>
<polygon points="982,286.8 1803,277.4 1803,339.2 982,348.4" fill="#6b0d9c"/>
<polygon points="982,373.1 1803,364.5 1803,426.3 982,435.1" fill="#841f91"/>
<polygon points="982,470.4 1803,462.4 1803,524.6 982,532.3" fill="#993882"/>
<polygon points="982,580.9 1803,573.6 1803,636 982,643.1" fill="#b2606d"/>
<polygon points="982,707.7 1803,701.3 1803,764.3 982,770.8" fill="#c57f5e"/>
<g filter="url(#p1)">
<rect x="970" y="87.8" width="845" height="737.2" fill="#181100"/>
<polygon points="970,230.84 1815,220.96 1815,298.96 970,308.64" fill="#181300"/>
<polygon points="970,308.64 1815,298.96 1815,385.87 970,394.93" fill="#1a1700"/>
<polygon points="970,394.93 1815,385.87 1815,483.78 970,492.22" fill="#1c1a00"/>
<polygon points="970,492.22 1815,483.78 1815,594.99 970,602.51" fill="#1f1e00"/>
<polygon points="970,602.51 1815,594.99 1815,722.9 970,729.8" fill="#222100"/>
<polygon points="970,770.9 1815,764.2 1815,797 970,797" fill="#2a2600"/>
<rect x="970" y="797" width="845" height="28" fill="#161000"/>
<polygon points="970,87.8 1815,87.8 1815,128.65 970,139.45" fill="#181100"/>
<polygon points="970,139.45 1815,128.65 1815,190.45 970,201.15" fill="#181100"/>
<polygon points="970,209.15 1815,198.75 1815,260.75 970,271.15" fill="#242300"/>
<polygon points="970,286.94 1815,277.26 1815,339.07 970,348.53" fill="#323800"/>
<polygon points="970,373.23 1815,364.37 1815,426.17 970,435.23" fill="#445400"/>
<polygon points="970,470.52 1815,462.28 1815,524.49 970,532.41" fill="#577a00"/>
<polygon points="970,581.01 1815,573.49 1815,635.9 970,643.2" fill="#80b500"/>
<polygon points="970,707.79 1815,701.21 1815,764.2 970,770.9" fill="#add800"/>
</g>
<path d="M1110.8,801L1113.4,792.5" stroke="#e0a040" stroke-width="1.1" fill="none" opacity="0.85"/>
<path class="lb" d="M982,145.3Q1392.5,139.75 1803,134.8M982,161.2Q1392.5,155.65 1803,150.7M982,175.4Q1392.5,170 1803,165.2M982,191.3Q1392.5,185.8 1803,180.9M982,215Q1392.5,209.55 1803,204.9M982,230.7Q1392.5,225.5 1803,221.1M982,245.4Q1392.5,240.15 1803,235.7M982,261.3Q1392.5,255.85 1803,251.2M982,292.8Q1392.5,287.5 1803,283.4M982,308.5Q1392.5,303.2 1803,299.1M982,323.2Q1392.5,318 1803,314M982,338.7Q1392.5,333.5 1803,329.5M982,379.1Q1392.5,374.4 1803,370.5M982,394.8Q1392.5,390 1803,386M982,409.5Q1392.5,404.9 1803,401.1M982,425.4Q1392.5,420.6 1803,416.6M982,476.4Q1392.5,472.2 1803,468.4M982,492.1Q1392.5,487.8 1803,483.9M982,506.9Q1392.5,502.85 1803,499.2M982,522.6Q1392.5,518.55 1803,514.9M982,586.9Q1392.5,583.25 1803,579.6M982,602.4Q1392.5,598.75 1803,595.1M982,617.7Q1392.5,614.15 1803,610.6M982,633.4Q1392.5,629.85 1803,626.3M982,713.7Q1392.5,710.5 1803,707.3M982,729.7Q1392.5,726.35 1803,723M982,745.2Q1392.5,741.95 1803,738.7M982,761.1Q1392.5,757.85 1803,754.6"/>
<path class="lw" d="M982,145.3Q1392.5,139.75 1803,134.8M982,161.2Q1392.5,155.65 1803,150.7M982,175.4Q1392.5,170 1803,165.2M982,191.3Q1392.5,185.8 1803,180.9M982,215Q1392.5,209.55 1803,204.9M982,230.7Q1392.5,225.5 1803,221.1M982,245.4Q1392.5,240.15 1803,235.7M982,261.3Q1392.5,255.85 1803,251.2M982,292.8Q1392.5,287.5 1803,283.4M982,308.5Q1392.5,303.2 1803,299.1M982,323.2Q1392.5,318 1803,314M982,338.7Q1392.5,333.5 1803,329.5M982,379.1Q1392.5,374.4 1803,370.5M982,394.8Q1392.5,390 1803,386M982,409.5Q1392.5,404.9 1803,401.1M982,425.4Q1392.5,420.6 1803,416.6M982,476.4Q1392.5,472.2 1803,468.4M982,492.1Q1392.5,487.8 1803,483.9M982,506.9Q1392.5,502.85 1803,499.2M982,522.6Q1392.5,518.55 1803,514.9M982,586.9Q1392.5,583.25 1803,579.6M982,602.4Q1392.5,598.75 1803,595.1M982,617.7Q1392.5,614.15 1803,610.6M982,633.4Q1392.5,629.85 1803,626.3M982,713.7Q1392.5,710.5 1803,707.3M982,729.7Q1392.5,726.35 1803,723M982,745.2Q1392.5,741.95 1803,738.7M982,761.1Q1392.5,757.85 1803,754.6"/>
</g>
<rect class="sp" x="982" y="99.8" width="821" height="713.2"/>
<text class="t" x="982.6" y="842.5" text-anchor="middle">0</text>
<text class="t" x="1082.82" y="842.5" text-anchor="middle">250</text>
<text class="t" x="1183.04" y="842.5" text-anchor="middle">500</text>
<text class="t" x="1283.26" y="842.5" text-anchor="middle">750</text>
<text class="t" x="1383.48" y="842.5" text-anchor="middle">1000</text>
<text class="t" x="1483.7" y="842.5" text-anchor="middle">1250</text>
<text class="t" x="1583.92" y="842.5" text-anchor="middle">1500</text>
<text class="t" x="1684.14" y="842.5" text-anchor="middle">1750</text>
<text class="t" x="1784.36" y="842.5" text-anchor="middle">2000</text>
<path class="tk" d="M982.2,813v6.9M982,812.83h-6.9M1082.42,813v6.9M982,725.77h-6.9M1182.64,813v6.9M982,638.7h-6.9M1282.86,813v6.9M982,551.64h-6.9M1383.08,813v6.9M982,464.58h-6.9M1483.3,813v6.9M982,377.52h-6.9M1583.52,813v6.9M982,290.46h-6.9M1683.74,813v6.9M982,203.4h-6.9M1783.96,813v6.9M982,116.34h-6.9"/>
<text class="ti" x="1392.3" y="87" text-anchor="middle">CHIP2</text>
<text class="t" x="1393.5" y="872" text-anchor="middle">pixel</text>
<g clip-path="url(#c2)">
<rect x="1844.9" y="99.8" width="821" height="713.2" fill="#4e039f"/>
<rect x="1844.9" y="797" width="821" height="16" fill="#43039d"/>
<polygon points="1844.9,198.1 2665.9,189.7 2665.9,251.5 1844.9,259.9" fill="#66099f"/>
<polygon points="1844.9,276.5 2665.9,268.6 2665.9,330.1 1844.9,338.3" fill="#791399"/>
<polygon points="1844.9,363.5 2665.9,355.7 2665.9,417.7 1844.9,425.4" fill="#8c248e"/>
<polygon points="1844.9,461.6 2665.9,454.7 2665.9,516.8 1844.9,523.5" fill="#9f3d7f"/>
<polygon points="1844.9,572.6 2665.9,566.9 2665.9,629.3 1844.9,635.2" fill="#b4626c"/>
<polygon points="1844.9,700.2 2665.9,695.2 2665.9,758.4 1844.9,763.4" fill="#c47d5f"/>
<g filter="url(#p2)">
<rect x="1832.9" y="87.8" width="845" height="737.2" fill="#1f1800"/>
<polygon points="1832.9,220.13 2677.9,211.27 2677.9,289.98 1832.9,298.32" fill="#201a00"/>
<polygon points="1832.9,298.32 2677.9,289.98 2677.9,377.49 1832.9,385.31" fill="#211c00"/>
<polygon points="1832.9,385.31 2677.9,377.49 2677.9,476.3 1832.9,483.2" fill="#241f00"/>
<polygon points="1832.9,483.2 2677.9,476.3 2677.9,588.31 1832.9,594.39" fill="#262300"/>
<polygon points="1832.9,594.39 2677.9,588.31 2677.9,716.83 1832.9,721.97" fill="#2a2600"/>
<polygon points="1832.9,763.47 2677.9,758.33 2677.9,797 1832.9,797" fill="#302a00"/>
<rect x="1832.9" y="797" width="845" height="28" fill="#1b1100"/>
<polygon points="1832.9,87.8 2677.9,87.8 2677.9,119.07 1832.9,128.13" fill="#282300"/>
<polygon points="1832.9,128.13 2677.9,119.07 2677.9,180.57 1832.9,189.83" fill="#282300"/>
<polygon points="1832.9,198.22 2677.9,189.58 2677.9,251.38 1832.9,260.02" fill="#2f2d00"/>
<polygon points="1832.9,276.62 2677.9,268.48 2677.9,329.98 1832.9,338.42" fill="#3c3f00"/>
<polygon points="1832.9,363.61 2677.9,355.59 2677.9,417.59 1832.9,425.51" fill="#4b5700"/>
<polygon points="1832.9,461.7 2677.9,454.6 2677.9,516.7 1832.9,523.6" fill="#5e7a00"/>
<polygon points="1832.9,572.68 2677.9,566.82 2677.9,629.21 1832.9,635.29" fill="#82b500"/>
<polygon points="1832.9,700.27 2677.9,695.13 2677.9,758.33 1832.9,763.47" fill="#abd800"/>
<g filter="url(#hb)">
<polygon points="1983,362.19 2038,361.67 2036,423.59 1981,424.1" fill="#5d6c00"/>
<polygon points="2500,357.28 2525,357.04 2523,419.02 2498,419.26" fill="#546100"/>
<polygon points="2270,359.46 2300,359.18 2298,421.13 2268,421.41" fill="#525f00"/>
<polygon points="1945,275.54 1975,275.25 1973,337 1943,337.3" fill="#454800"/>
</g>
<circle cx="2159.7" cy="742.4" r="6" fill="#5c6900"/>
<circle cx="2159.7" cy="742.4" r="2.5" fill="#333400"/>
<path d="M1850.5,740L1854,763" stroke="#4c5700" stroke-width="3.2" fill="none"/>
</g>
<path d="M2301,101L2304.4,108.4M2080,363L2083,371" stroke="#e0a040" stroke-width="1.1" fill="none" opacity="0.85"/>
<path class="lb" d="M1844.9,134Q2255.4,130.2 2665.9,125.2M1844.9,149.9Q2255.4,145.9 2665.9,140.7M1844.9,164.1Q2255.4,160.3 2665.9,155.3M1844.9,180Q2255.4,176.1 2665.9,171M1844.9,204.1Q2255.4,200.5 2665.9,195.7M1844.9,220Q2255.4,216.3 2665.9,211.4M1844.9,234.5Q2255.4,231 2665.9,226.3M1844.9,250.2Q2255.4,246.6 2665.9,241.8M1844.9,282.5Q2255.4,278.35 2665.9,274.6M1844.9,298.2Q2255.4,293.95 2665.9,290.1M1844.9,312.9Q2255.4,308.6 2665.9,304.7M1844.9,328.6Q2255.4,324.3 2665.9,320.4M1844.9,369.5Q2255.4,365.6 2665.9,361.7M1844.9,385.2Q2255.4,381.4 2665.9,377.6M1844.9,400Q2255.4,396.15 2665.9,392.3M1844.9,415.7Q2255.4,411.85 2665.9,408M1844.9,467.6Q2255.4,464.15 2665.9,460.7M1844.9,483.1Q2255.4,479.75 2665.9,476.4M1844.9,498.4Q2255.4,495 2665.9,491.6M1844.9,513.8Q2255.4,510.45 2665.9,507.1M1844.9,578.6Q2255.4,575.75 2665.9,572.9M1844.9,594.3Q2255.4,591.35 2665.9,588.4M1844.9,610Q2255.4,606.95 2665.9,603.9M1844.9,625.5Q2255.4,622.55 2665.9,619.6M1844.9,706.2Q2255.4,703.7 2665.9,701.2M1844.9,721.9Q2255.4,719.4 2665.9,716.9M1844.9,737.8Q2255.4,735.2 2665.9,732.6M1844.9,753.7Q2255.4,751.2 2665.9,748.7"/>
<path class="lw" d="M1844.9,134Q2255.4,130.2 2665.9,125.2M1844.9,149.9Q2255.4,145.9 2665.9,140.7M1844.9,164.1Q2255.4,160.3 2665.9,155.3M1844.9,180Q2255.4,176.1 2665.9,171M1844.9,204.1Q2255.4,200.5 2665.9,195.7M1844.9,220Q2255.4,216.3 2665.9,211.4M1844.9,234.5Q2255.4,231 2665.9,226.3M1844.9,250.2Q2255.4,246.6 2665.9,241.8M1844.9,282.5Q2255.4,278.35 2665.9,274.6M1844.9,298.2Q2255.4,293.95 2665.9,290.1M1844.9,312.9Q2255.4,308.6 2665.9,304.7M1844.9,328.6Q2255.4,324.3 2665.9,320.4M1844.9,369.5Q2255.4,365.6 2665.9,361.7M1844.9,385.2Q2255.4,381.4 2665.9,377.6M1844.9,400Q2255.4,396.15 2665.9,392.3M1844.9,415.7Q2255.4,411.85 2665.9,408M1844.9,467.6Q2255.4,464.15 2665.9,460.7M1844.9,483.1Q2255.4,479.75 2665.9,476.4M1844.9,498.4Q2255.4,495 2665.9,491.6M1844.9,513.8Q2255.4,510.45 2665.9,507.1M1844.9,578.6Q2255.4,575.75 2665.9,572.9M1844.9,594.3Q2255.4,591.35 2665.9,588.4M1844.9,610Q2255.4,606.95 2665.9,603.9M1844.9,625.5Q2255.4,622.55 2665.9,619.6M1844.9,706.2Q2255.4,703.7 2665.9,701.2M1844.9,721.9Q2255.4,719.4 2665.9,716.9M1844.9,737.8Q2255.4,735.2 2665.9,732.6M1844.9,753.7Q2255.4,751.2 2665.9,748.7"/>
</g>
<rect class="sp" x="1844.9" y="99.8" width="820" height="713.2"/>
<text class="t" x="1845.5" y="842.5" text-anchor="middle">0</text>
<text class="t" x="1945.72" y="842.5" text-anchor="middle">250</text>
<text class="t" x="2045.94" y="842.5" text-anchor="middle">500</text>
<text class="t" x="2146.16" y="842.5" text-anchor="middle">750</text>
<text class="t" x="2246.38" y="842.5" text-anchor="middle">1000</text>
<text class="t" x="2346.6" y="842.5" text-anchor="middle">1250</text>
<text class="t" x="2446.82" y="842.5" text-anchor="middle">1500</text>
<text class="t" x="2547.04" y="842.5" text-anchor="middle">1750</text>
<text class="t" x="2647.26" y="842.5" text-anchor="middle">2000</text>
<path class="tk" d="M1845.1,813v6.9M1844.9,812.83h-6.9M1945.32,813v6.9M1844.9,725.77h-6.9M2045.54,813v6.9M1844.9,638.7h-6.9M2145.76,813v6.9M1844.9,551.64h-6.9M2245.98,813v6.9M1844.9,464.58h-6.9M2346.2,813v6.9M1844.9,377.52h-6.9M2446.42,813v6.9M1844.9,290.46h-6.9M2546.64,813v6.9M1844.9,203.4h-6.9M2646.86,813v6.9M1844.9,116.34h-6.9"/>
<text class="ti" x="2254.5" y="87" text-anchor="middle">CHIP3</text>
<text class="t" x="2256.4" y="872" text-anchor="middle">pixel</text>
<text class="t" x="1350" y="34" text-anchor="middle" xml:space="preserve" style="white-space:pre">12P_Pons-Brooks_L3377_2024-07-14_22485  (extract_height=45)</text>
<text class="t" transform="translate(40 458.7) rotate(-90)" text-anchor="middle">pixel</text>
</svg></body></html>
